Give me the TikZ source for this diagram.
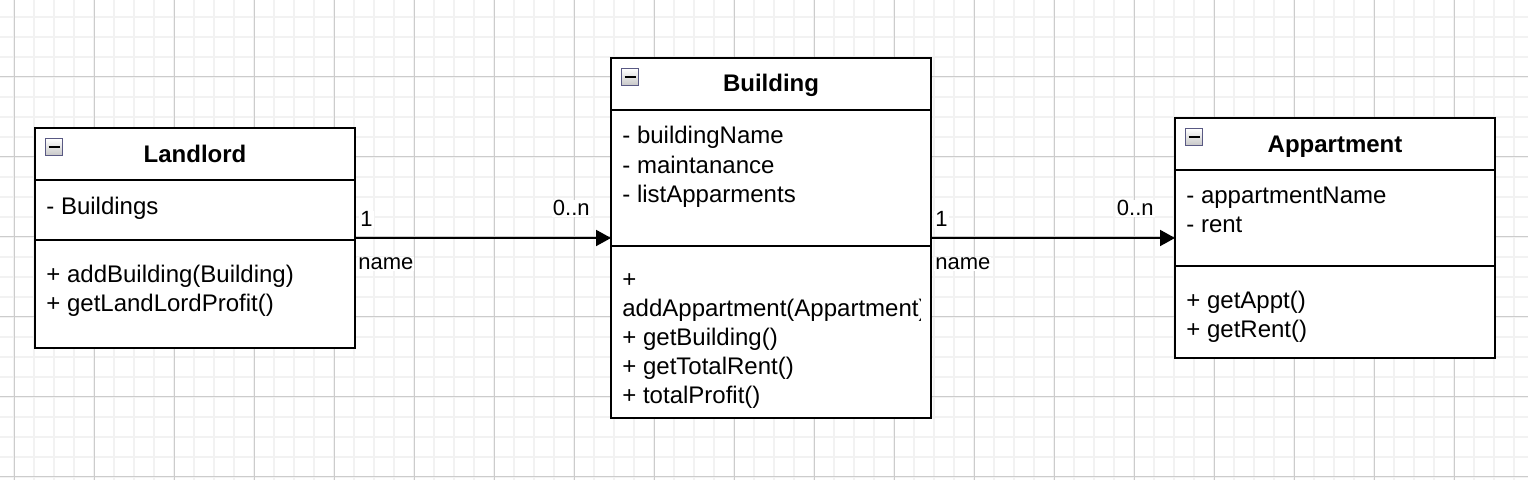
\documentclass[tikz,border=0pt]{standalone}
\usepackage{fontspec}
\setmainfont{Liberation Sans}
\usepackage{tikz}
\usetikzlibrary{arrows.meta}
\tikzstyle{umlclass}=[draw,line width=1pt,minimum width=160pt,inner sep=0pt,outer sep=0pt,fill=white]
\tikzstyle{title}=[anchor=base,inner sep=0pt,font=\fontsize{12}{14.4}\selectfont\bfseries]
\tikzstyle{member}=[anchor=base west,inner sep=0pt,font=\fontsize{12}{14.4}\selectfont]
\tikzstyle{mult}=[fill=white,inner sep=0.5pt,font=\fontsize{11}{13.2}\selectfont]
\tikzstyle{icon}=[draw=black!45!blue!30!gray,line width=0.6pt,top color=white,bottom color=black!22,minimum size=8.5pt,inner sep=0pt,anchor=north west]
\tikzstyle{edge}=[draw,line width=1pt,-{Triangle[length=7.5pt,width=8pt]}]
\tikzstyle{minorgrid}=[draw=black!5,line width=1pt]
\tikzstyle{majorgrid}=[draw=black!20,line width=0.5pt]
\tikzstyle{divider}=[draw,line width=1pt]

\begin{document}
\begin{tikzpicture}[x=0.5pt,y=-0.5pt]
  \fill[white] (0,0) rectangle (1528,480);
  \useasboundingbox (0,0) rectangle (1528,480);
  % grid
  \foreach \x in {14,34,...,1514} \draw[minorgrid] (\x,0) -- (\x,480);
  \foreach \y in {17,37,...,477} \draw[minorgrid] (0,\y) -- (1528,\y);
  \foreach \x in {14,94,...,1514} \draw[majorgrid] (\x,0) -- (\x,480);
  \foreach \y in {77,157,...,477} \draw[majorgrid] (0,\y) -- (1528,\y);

  % classes
  \node[umlclass,minimum height=110pt] (landlord) at (195,238) {};
  \node[umlclass,minimum height=180pt] (building) at (771,238) {};
  \node[umlclass,minimum height=120pt] (appartment) at (1335,238) {};

  \draw[divider] ([yshift=-26pt]landlord.north west) -- ([yshift=-26pt]landlord.north east);
  \draw[divider] ([yshift=-56pt]landlord.north west) -- ([yshift=-56pt]landlord.north east);
  \draw[divider] ([yshift=-26pt]building.north west) -- ([yshift=-26pt]building.north east);
  \draw[divider] ([yshift=-94pt]building.north west) -- ([yshift=-94pt]building.north east);
  \draw[divider] ([yshift=-26pt]appartment.north west) -- ([yshift=-26pt]appartment.north east);
  \draw[divider] ([yshift=-74pt]appartment.north west) -- ([yshift=-74pt]appartment.north east);

  % collapse icons
  \node[icon] (landlord-icon) at ([shift={(10,10)}]landlord.north west) {};
  \node[icon] (building-icon) at ([shift={(10,10)}]building.north west) {};
  \node[icon] (appartment-icon) at ([shift={(10,10)}]appartment.north west) {};
  \foreach \n in {landlord-icon,building-icon,appartment-icon}
    \draw[line width=1.4pt] ([xshift=-2.8pt]\n.center) -- ([xshift=2.8pt]\n.center);

  % titles
  \node[title] (landlord-title) at (195,163) {Landlord};
  \node[title] (building-title) at (771,92) {Building};
  \node[title] (appartment-title) at (1335,153) {Appartment};

  % members
  \node[member] (landlord-attr) at (46,215) {- Buildings};
  \foreach \txt [count=\i from 0] in {+ addBuilding(Building),+ getLandLordProfit()}
    \node[member] (landlord-op\i) at (46,{283+29*\i}) {\txt};
  \foreach \txt [count=\i from 0] in {- buildingName,- maintanance,- listApparments}
    \node[member] (building-attr\i) at (622,{144+29.5*\i}) {\txt};
  \begin{scope}
    \clip (building.north west) rectangle ([xshift=-5.5pt]building.south east);
    \foreach \txt [count=\i from 0] in {+,addAppartment(Appartment),+ getBuilding(),+ getTotalRent(),+ totalProfit()}
      \node[member] (building-op\i) at (622,{288+28.8*\i}) {\txt};
  \end{scope}
  \foreach \txt [count=\i from 0] in {- appartmentName,- rent}
    \node[member] (appartment-attr\i) at (1186,{204+29*\i}) {\txt};
  \foreach \txt [count=\i from 0] in {+ getAppt(),+ getRent()}
    \node[member] (appartment-op\i) at (1186,{309+29*\i}) {\txt};

  % associations
  \draw[edge] (landlord) to (building);
  \draw[edge] (building) to (appartment);
  \node[mult,anchor=base west] (landlord-one) at (359,227) {1};
  \node[mult,anchor=base west] (landlord-name) at (357,270) {name};
  \node[mult,anchor=base east] (building-many) at (591,216) {0..n};
  \node[mult,anchor=base west] (building-one) at (934,227) {1};
  \node[mult,anchor=base west] (building-name) at (934,270) {name};
  \node[mult,anchor=base east] (appartment-many) at (1155,216) {0..n};
\end{tikzpicture}
\end{document}
